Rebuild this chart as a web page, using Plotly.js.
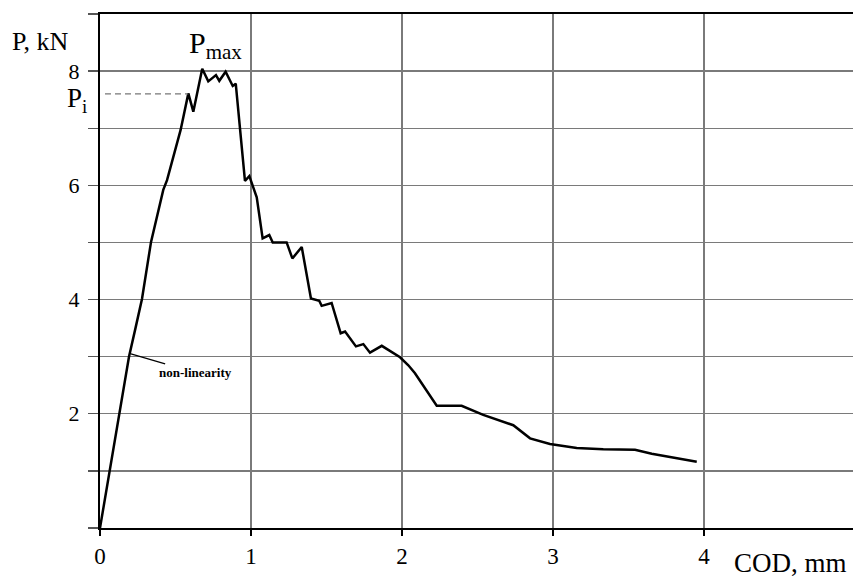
<!DOCTYPE html>
<html>
<head>
<meta charset="utf-8">
<script src="https://cdn.plot.ly/plotly-3.0.1.min.js"></script>
<style>
html,body{margin:0;padding:0;overflow:hidden;background:#fff;}
#chart{width:858px;height:578px;}
</style>
</head>
<body>
<div id="chart"></div>
<script>
// COD (mm) and load P (kN)
const cod = [0, 0.192, 0.235, 0.278, 0.338, 0.419, 0.444, 0.534, 0.585, 0.618, 0.677, 0.717, 0.768, 0.790, 0.832, 0.879, 0.899,
  0.960, 0.989, 1.038, 1.077, 1.121, 1.144, 1.236, 1.274, 1.336, 1.397, 1.452, 1.468, 1.534, 1.594, 1.623, 1.695, 1.744, 1.788,
  1.866, 1.987, 2.042, 2.086, 2.230, 2.395, 2.538, 2.737, 2.848, 2.980, 3.157, 3.333, 3.543, 3.654, 3.952];
const load = [0, 3.00, 3.50, 4.01, 5.01, 5.92, 6.09, 6.97, 7.61, 7.29, 8.04, 7.82, 7.93, 7.83, 7.99, 7.74, 7.78,
  6.08, 6.16, 5.79, 5.07, 5.13, 5.00, 5.00, 4.72, 4.92, 4.02, 3.98, 3.89, 3.94, 3.41, 3.44, 3.18, 3.22, 3.07,
  3.19, 2.99, 2.85, 2.71, 2.14, 2.14, 1.98, 1.80, 1.57, 1.47, 1.40, 1.38, 1.37, 1.30, 1.16];

const xTickVals = [0, 1, 2, 3, 4, 5];
const xTickText = ['0', '1', '2', '3', '4', '5'];
const yTickVals = [0, 1, 2, 3, 4, 5, 6, 7, 8, 9];
const yTickText = ['', '', '2', '', '4', '', '6', '', '8', ''];

const piLevel = 7.6;       // P_i level
const piEndCod = 0.585;    // where the dashed P_i line meets the curve
const nonLinPoint = [0.205, 3.05];

const serif = 'Liberation Serif, Times New Roman, serif';

const trace = {
  x: cod, y: load, type: 'scatter', mode: 'lines',
  line: {color: '#000', width: 2.5}, hoverinfo: 'skip'
};

const layout = {
  width: 858, height: 578,
  margin: {l: 100, r: 3, t: 14, b: 50},
  paper_bgcolor: '#fff', plot_bgcolor: '#fff',
  showlegend: false,
  font: {family: serif, color: '#000', size: 20},
  xaxis: {
    range: [0, 5], tickvals: xTickVals, ticktext: xTickText,
    showgrid: true, gridcolor: '#7a7a7a', gridwidth: 1.3,
    showline: true, linecolor: '#000', linewidth: 2.2, mirror: true,
    ticks: 'outside', ticklen: 6, tickwidth: 1.5, tickcolor: '#000',
    tickfont: {family: serif, size: 23, color: '#000'},
    ticklabelstandoff: 0,
    zeroline: false
  },
  yaxis: {
    range: [0, 9], tickvals: yTickVals, ticktext: yTickText,
    showgrid: true, gridcolor: '#7a7a7a', gridwidth: 1.3,
    showline: true, linecolor: '#000', linewidth: 2.2,
    ticks: 'outside', ticklen: 10, tickwidth: 1.3, tickcolor: '#555',
    tickfont: {family: serif, size: 22, color: '#000'},
    ticklabelstandoff: 4,
    zeroline: false
  },
  shapes: [
    {type: 'line', xref: 'x', yref: 'y', x0: 0.033, x1: piEndCod, y0: piLevel, y1: piLevel,
     line: {color: '#777', width: 1.3, dash: '6px,4px'}}
  ],
  annotations: [
    {text: 'P, kN', xref: 'paper', yref: 'paper', x: -0.079, y: 0.946, xanchor: 'center', yanchor: 'middle',
     showarrow: false, font: {family: serif, size: 26, color: '#000'}},
    {text: 'P<sub>max</sub>', xref: 'x', yref: 'y', x: 0.765, y: 8.45, xanchor: 'center', yanchor: 'middle',
     showarrow: false, font: {family: serif, size: 30, color: '#000'}},
    {text: 'P<sub>i</sub>', xref: 'paper', yref: 'y', x: -0.030, y: 7.49, xanchor: 'center', yanchor: 'middle',
     showarrow: false, font: {family: serif, size: 27, color: '#000'}},
    {text: 'COD, mm', xref: 'paper', yref: 'paper', x: 0.914, y: -0.069, xanchor: 'center', yanchor: 'middle',
     showarrow: false, font: {family: serif, size: 27, color: '#000'}},
    {text: '<b>non-linearity</b>', xref: 'x', yref: 'y', x: nonLinPoint[0], y: nonLinPoint[1],
     showarrow: true, arrowhead: 0, arrowwidth: 1.2, arrowcolor: '#000', ax: 65, ay: 19,
     font: {family: serif, size: 13, color: '#000'}}
  ]
};

Plotly.newPlot('chart', [trace], layout, {displayModeBar: false, staticPlot: true});
</script>
</body>
</html>
